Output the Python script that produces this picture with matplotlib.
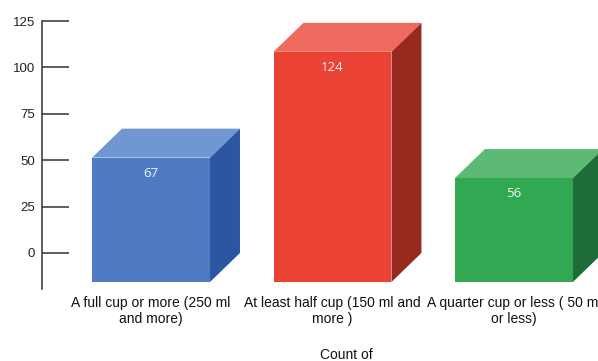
import numpy as np
import matplotlib.pyplot as plt
from matplotlib.patches import Polygon

categories = ['A full cup or more (250 ml\nand more)',
              'At least half cup (150 ml and\nmore )',
              'A quarter cup or less ( 50 ml\nor less)']
counts = [67, 124, 56]
front_colors = ['#4f7bc2', '#ea4235', '#33a853']
top_colors = ['#7197d2', '#ee695e', '#5dba75']
side_colors = ['#2a56a2', '#97291f', '#1e6c37']

plt.rcParams['font.family'] = ['Liberation Sans', 'DejaVu Sans']

fig = plt.figure(figsize=(5.98, 3.61), dpi=100)
ax = fig.add_axes([42 / 598, 1 - 289 / 361, 556 / 598, 268 / 361])

x = np.arange(len(counts))
w = 0.65      # bar width
dx = 0.165    # depth offset in x
dy = 15.6     # depth offset in y

# front faces
ax.bar(x - dx, counts, width=w, bottom=-dy, color=front_colors, zorder=2)

for i, v in enumerate(counts):
    x0 = x[i] - w / 2
    top = [(x0 - dx, v - dy), (x0 + w - dx, v - dy), (x0 + w, v), (x0, v)]
    side = [(x0 + w - dx, -dy), (x0 + w, 0), (x0 + w, v), (x0 + w - dx, v - dy)]
    ax.add_patch(Polygon(top, closed=True, color=top_colors[i], lw=0, zorder=2))
    ax.add_patch(Polygon(side, closed=True, color=side_colors[i], lw=0, zorder=2))
    ax.text(x[i] - dx, v - dy - 8.3, str(v), ha='center', va='center',
            color='#f4f4f4', fontsize=9.5, family=['Open Sans', 'DejaVu Sans'], zorder=3)

ax.set_xlim(-0.766, 2.298)
ax.set_ylim(-19.4, 125)
ax.set_yticks([0, 25, 50, 75, 100, 125])
ax.tick_params(axis='y', direction='in', length=19.5, width=1.1, color='#333333',
               pad=5, labelsize=9.5, labelcolor='#222222')

# category labels under the front faces
ax.set_xticks(x - dx)
ax.set_xticklabels(categories, fontsize=10, color='#111111', linespacing=1.2)
ax.tick_params(axis='x', length=0, pad=5)

for s in ['top', 'right', 'bottom']:
    ax.spines[s].set_visible(False)
ax.spines['left'].set_linewidth(1.1)
ax.spines['left'].set_color('#333333')

fig.text(346 / 598, 1 - 355 / 361, 'Count of', ha='center', va='center',
         fontsize=10, color='#111111')

fig.savefig('out.png', dpi=100)
